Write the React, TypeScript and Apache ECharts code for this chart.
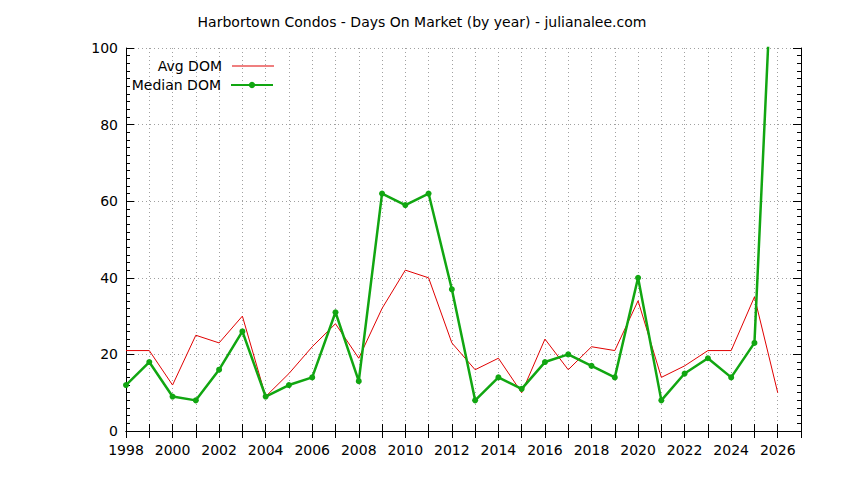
import React, { useEffect, useRef } from "react";
import * as echarts from "echarts";

const years = [
  1998, 1999, 2000, 2001, 2002, 2003, 2004, 2005, 2006, 2007, 2008, 2009, 2010, 2011, 2012,
  2013, 2014, 2015, 2016, 2017, 2018, 2019, 2020, 2021, 2022, 2023, 2024, 2025, 2026,
];
const avgDom = [
  21, 21, 12, 25, 23, 30, 9, 15, 22, 28, 19, 32, 42, 40, 23,
  16, 19, 10, 24, 16, 22, 21, 34, 14, 17, 21, 21, 35, 10,
];
const medianDom = [
  12, 18, 9, 8, 16, 26, 9, 12, 14, 31, 13, 62, 59, 62, 37,
  8, 14, 11, 18, 20, 17, 14, 40, 8, 15, 19, 14, 23, 155,
];

const FONT = "DejaVu Sans";
const FS = 14;
const RED = "#e00000";
const GREEN = "#11a611";

const App: React.FC = () => {
  const chartRef = useRef<HTMLDivElement>(null);

  useEffect(() => {
    if (!chartRef.current) return;
    const chart = echarts.init(chartRef.current, undefined, { renderer: "svg" });

    const gridLine = { show: true, lineStyle: { color: "#a0a0a0", type: [1, 3] as any, width: 1 } };
    const axisLine = { show: true, lineStyle: { color: "#000", width: 1 } };
    const legendText = { fontFamily: FONT, fontSize: FS, color: "#000", padding: [0, 5, 0, 0] };

    const option = {
      animation: false,
      backgroundColor: "#fff",
      textStyle: { fontFamily: FONT },
      title: {
        text: "Harbortown Condos - Days On Market (by year) - julianalee.com",
        left: "center",
        top: 10,
        textStyle: { fontFamily: FONT, fontSize: FS, fontWeight: "normal", color: "#000" },
      },
      legend: [
        {
          data: [{ name: "Avg DOM", icon: "rect" }],
          right: 570,
          top: 59,
          padding: 0,
          align: "right",
          itemWidth: 42,
          itemHeight: 1,
          textStyle: legendText,
        },
        {
          data: ["Median DOM"],
          right: 570,
          top: 78,
          padding: 0,
          align: "right",
          itemWidth: 42,
          itemHeight: 8,
          textStyle: legendText,
        },
      ],
      grid: { left: 126, right: 43, top: 48, bottom: 49, containLabel: false },
      xAxis: [
        {
          type: "value",
          min: 1998,
          max: 2027,
          interval: 1,
          axisLine,
          axisTick: { show: true, inside: true, length: 7, lineStyle: { color: "#000" } },
          axisLabel: {
            margin: 12,
            fontFamily: FONT,
            fontSize: FS,
            color: "#000",
            formatter: (v: number) => (v % 2 === 0 && v < 2027 ? String(v) : ""),
          },
          splitLine: gridLine,
        },
        {
          type: "value",
          position: "top",
          min: 1998,
          max: 2027,
          interval: 1,
          axisLine,
          axisTick: { show: true, inside: true, length: 7, lineStyle: { color: "#000" } },
          axisLabel: { show: false },
          splitLine: { show: false },
        },
      ],
      yAxis: [
        {
          type: "value",
          min: 0,
          max: 100,
          interval: 20,
          axisLine,
          axisTick: { show: true, inside: true, length: 8, lineStyle: { color: "#000" } },
          minorTick: { show: true, splitNumber: 10, length: 4, lineStyle: { color: "#000" } },
          axisLabel: { margin: 8, fontFamily: FONT, fontSize: FS, color: "#000" },
          splitLine: gridLine,
        },
        {
          type: "value",
          position: "right",
          min: 0,
          max: 100,
          interval: 20,
          axisLine,
          axisTick: { show: true, inside: true, length: 8, lineStyle: { color: "#000" } },
          minorTick: { show: true, splitNumber: 10, length: 4, lineStyle: { color: "#000" } },
          axisLabel: { show: false },
          splitLine: { show: false },
        },
      ],
      series: [
        {
          name: "Avg DOM",
          type: "line",
          data: years.map((y, i) => [y, avgDom[i]]),
          symbol: "none",
          color: RED,
          lineStyle: { color: RED, width: 1 },
          clip: true,
        },
        {
          name: "Median DOM",
          type: "line",
          data: years.map((y, i) => [y, medianDom[i]]),
          symbol: "circle",
          symbolSize: 6,
          color: GREEN,
          itemStyle: { color: GREEN },
          lineStyle: { color: GREEN, width: 2.5 },
          clip: true,
        },
      ],
    };

    chart.setOption(option);
    return () => {
      chart.dispose();
    };
  }, []);

  return <div ref={chartRef} style={{ width: 844, height: 480, margin: -8 }} />;
};

export default App;
